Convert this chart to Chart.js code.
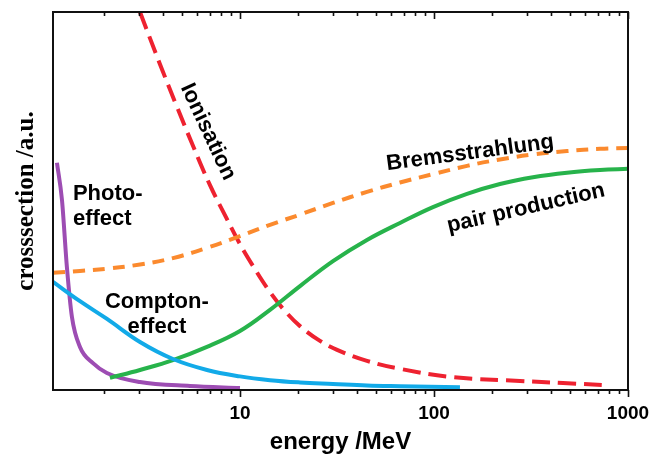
<!DOCTYPE html>
<html><head><meta charset="utf-8">
<script src="https://cdn.jsdelivr.net/npm/chart.js@4/dist/chart.umd.min.js"></script>
<style>html,body{margin:0;padding:0;background:#fff}#wrap{width:654px;height:457px}</style>
</head><body><div id="wrap"><canvas id="c" width="654" height="457"></canvas></div>
<script>
// energy (MeV) and cross-section (a.u.)
const photoE = [1.139, 1.209, 1.282, 1.361, 1.497, 1.747, 2.06, 3.05, 5.52, 10];
const photoY = [60.1, 50.3, 32.5, 19.3, 11.4, 7.1, 4.5, 2.1, 1.06, 0.53];
const comptonE = [1.087, 1.497, 2.063, 3.052, 4.514, 6.759, 10, 14.28, 20.39, 30.16, 45.14, 66.79, 136.1];
const comptonY = [28.6, 23.5, 18.8, 12.7, 8.2, 5.3, 3.6, 2.6, 2.0, 1.6, 1.2, 1.0, 0.7];
const pairE = [2.137, 3.052, 4.514, 6.759, 10, 14.28, 20.39, 30.16, 45.14, 66.79, 98.8, 148.0, 218.9, 323.8, 484.9, 717.4, 1000];
const pairY = [3.2, 5.3, 7.9, 11.4, 15.6, 21.2, 27.5, 34.1, 39.7, 44.2, 48.4, 51.9, 54.5, 56.3, 57.5, 58.2, 58.5];
const bremsE = [1.087, 1.497, 2.063, 3.052, 4.514, 6.759, 10, 14.28, 20.39, 30.16, 45.14, 66.79, 98.8, 148.0, 218.9, 323.8, 484.9, 717.4, 1000];
const bremsY = [31.0, 31.5, 32.1, 33.2, 34.9, 37.6, 40.7, 43.7, 46.4, 49.5, 52.4, 54.9, 57.1, 59.3, 61.0, 62.3, 63.2, 63.8, 64.0];
const ionE = [3.052, 3.869, 4.735, 5.724, 7.004, 8.570, 10, 11.67, 14.28, 17.06, 20.39, 25.85, 32.77, 45.14, 66.79, 125.3, 277.5, 462.3, 761.1];
const ionY = [100, 86.2, 74.9, 64.6, 54.2, 45.2, 38.6, 32.8, 25.9, 20.9, 16.9, 13.0, 10.3, 7.7, 5.6, 3.4, 2.4, 1.85, 1.3];
const majorTicks = [10, 100, 1000];
const minorTicks = [2,3,4,5,6,7,8,9,20,30,40,50,60,70,80,90,200,300,400,500,600,700,800,900];
const xMin = 1.087, xMax = 1000, yMin = 0, yMax = 100;

const pts = (xs, ys) => xs.map((x, i) => ({x, y: ys[i]}));
const SANS = "'Liberation Sans', Arial, sans-serif";

const notes = [
  {lines: ['Photo-', 'effect'], x: 1.377, y: 50.3, align: 'left', base: 'alphabetic', rot: 0},
  {lines: ['Compton-', 'effect'], x: 3.73, y: 21.7, align: 'center', base: 'alphabetic', rot: 0},
  {lines: ['Bremsstrahlung'], x: 153.5, y: 62.7, align: 'center', base: 'middle', rot: -7.6},
  {lines: ['pair production'], x: 298, y: 48.1, align: 'center', base: 'middle', rot: -13},
  {lines: ['Ionisation'], x: 6.84, y: 68.3, align: 'center', base: 'middle', rot: 65}
];

const framePlugin = {
  id: 'frame',
  afterDraw(chart) {
    const {ctx, chartArea: a, scales: {x}} = chart;
    ctx.save();
    ctx.strokeStyle = '#111';
    ctx.lineWidth = 2;
    ctx.strokeRect(a.left, a.top, a.right - a.left, a.bottom - a.top);
    ctx.lineWidth = 1.6;
    const draw = (v, len) => {
      const px = Math.round(x.getPixelForValue(v)) + 0.5;
      ctx.beginPath();
      ctx.moveTo(px, a.bottom); ctx.lineTo(px, a.bottom + len);
      ctx.moveTo(px, a.top); ctx.lineTo(px, a.top + len);
      ctx.stroke();
    };
    minorTicks.forEach(v => draw(v, 4));
    majorTicks.forEach(v => draw(v, 7));
    ctx.restore();
  }
};

const notePlugin = {
  id: 'notes',
  afterDatasetsDraw(chart) {
    const {ctx, scales: {x, y}} = chart;
    ctx.save();
    ctx.fillStyle = '#000';
    ctx.font = 'bold 22px ' + SANS;
    notes.forEach(n => {
      ctx.save();
      ctx.translate(x.getPixelForValue(n.x), y.getPixelForValue(n.y));
      ctx.rotate(n.rot * Math.PI / 180);
      ctx.textAlign = n.align;
      ctx.textBaseline = n.base;
      n.lines.forEach((t, i) => ctx.fillText(t, 0, i * 25));
      ctx.restore();
    });
    ctx.restore();
  }
};

const solid = (data, color, mono) => ({data, borderColor: color, borderWidth: 4, pointRadius: 0,
  tension: 0.4, cubicInterpolationMode: mono ? 'monotone' : 'default', fill: false});
const dashed = (data, color, dash) => ({data, borderColor: color, borderWidth: 4, pointRadius: 0,
  tension: 0.4, fill: false, borderDash: dash, borderCapStyle: 'butt'});

new Chart(document.getElementById('c'), {
  type: 'line',
  data: {
    datasets: [
      dashed(pts(bremsE, bremsY), '#fb8a2e', [12, 8]),
      solid(pts(comptonE, comptonY), '#12aae8'),
      solid(pts(pairE, pairY), '#27b34b'),
      solid(pts(photoE, photoY), '#9d4db3', true),
      dashed(pts(ionE, ionY), '#ee2230', [18, 8])
    ]
  },
  options: {
    responsive: false,
    animation: false,
    layout: {padding: {top: 12, right: 26, left: 0, bottom: 0}},
    plugins: {legend: {display: false}, tooltip: {enabled: false}},
    scales: {
      x: {
        type: 'logarithmic', min: xMin, max: xMax,
        grid: {display: false, drawTicks: false, tickLength: 0},
        border: {display: false},
        afterBuildTicks(s) { s.ticks = minorTicks.concat(majorTicks).sort((a, b) => a - b).map(v => ({value: v})); },
        afterFit(s) { s.height = 67; s.paddingLeft = 0; s.paddingRight = 0; },
        ticks: {
          autoSkip: false, maxRotation: 0, minRotation: 0, padding: 12, color: '#000',
          font: {family: SANS, weight: 'bold', size: 19},
          callback: v => majorTicks.includes(v) ? String(v) : ''
        },
        title: {display: true, text: 'energy /MeV', color: '#000', padding: {top: 0, bottom: 0},
          font: {family: SANS, weight: 'bold', size: 24}}
      },
      y: {
        min: yMin, max: yMax,
        grid: {display: false, drawTicks: false},
        border: {display: false},
        ticks: {display: false},
        afterFit(s) { s.width = 53; },
        title: {display: true, text: 'crosssection /a.u.', color: '#000', padding: {top: 12, bottom: 0},
          font: {family: "'Liberation Serif', 'Times New Roman', serif", weight: 'bold', size: 25}}
      }
    }
  },
  plugins: [framePlugin, notePlugin]
});
</script></body></html>
